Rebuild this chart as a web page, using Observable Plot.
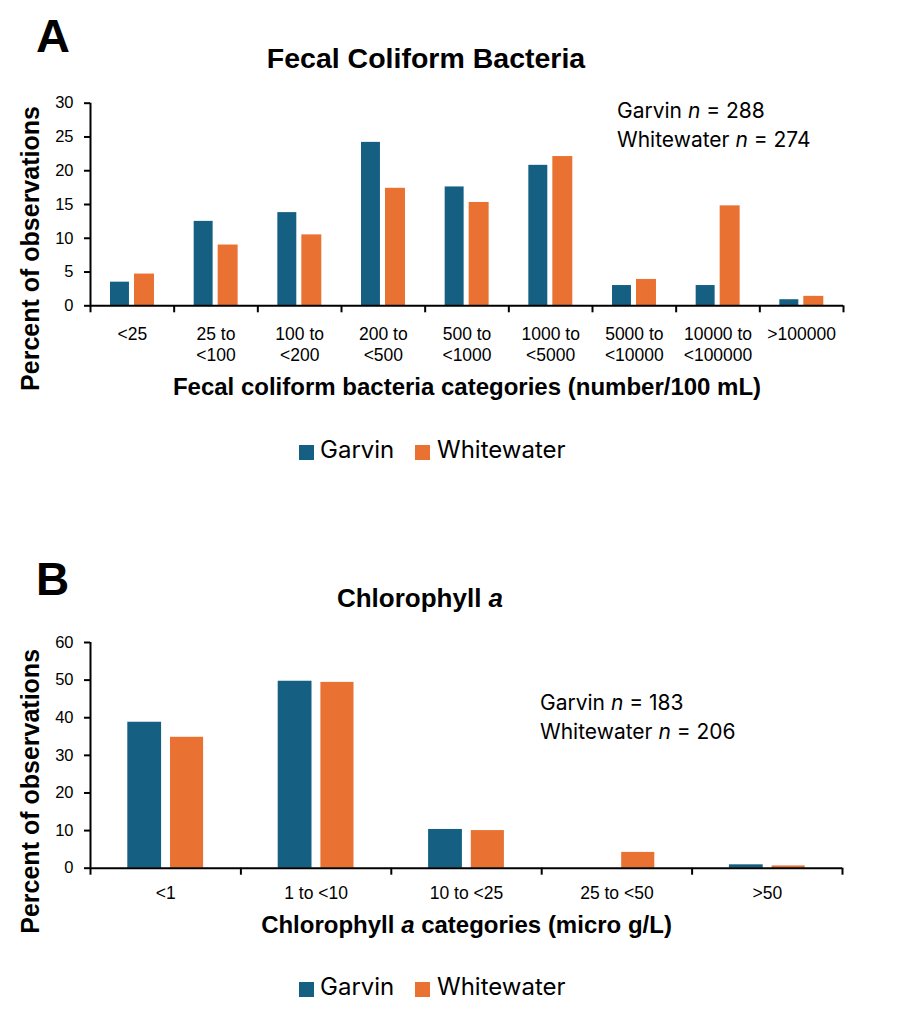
<!DOCTYPE html>
<html><head><meta charset="utf-8">
<script src="https://cdn.jsdelivr.net/npm/d3@7"></script>
<script src="https://cdn.jsdelivr.net/npm/@observablehq/plot@0.6"></script>
<style>
body{margin:0;background:#fff;}
#wrap{position:relative;width:917px;height:1012px;overflow:hidden;font-family:Inter,"Liberation Sans",sans-serif;color:#000;background:#fff}
.abs{position:absolute;white-space:nowrap}
.panel{font-family:"Liberation Sans",Arial,sans-serif;font-weight:bold;line-height:1}
.title{font-family:"Liberation Sans",Arial,sans-serif;font-weight:bold;line-height:1;transform:translateX(-50%)}
.note{font-family:Inter,sans-serif;font-size:21px;line-height:29px}
.sw{width:15px;height:15px}
.lg{font-family:Inter,sans-serif;font-size:24px;line-height:24px}
svg{overflow:visible}
</style>
</head><body>
<div id="wrap">
  <div class="abs panel" style="left:36px;top:12px;font-size:47px">A</div>
  <div class="abs title" style="left:426px;top:44px;font-size:28.5px">Fecal Coliform Bacteria</div>
  <div class="abs" id="plotA" style="left:0;top:80px"></div>
  <div class="abs note" style="left:617px;top:96px">Garvin <i>n</i> = 288<br>Whitewater <i>n</i> = 274</div>
  <div class="abs sw" id="swA1" style="left:299px;top:445px"></div>
  <div class="abs lg" style="left:320px;top:438px">Garvin</div>
  <div class="abs sw" id="swA2" style="left:415px;top:445px"></div>
  <div class="abs lg" style="left:437px;top:438px">Whitewater</div>

  <div class="abs panel" style="left:36px;top:556px;font-size:46px">B</div>
  <div class="abs title" style="left:420px;top:585px;font-size:26px">Chlorophyll <i>a</i></div>
  <div class="abs" id="plotB" style="left:0;top:620px"></div>
  <div class="abs note" style="left:540px;top:688px">Garvin <i>n</i> = 183<br>Whitewater <i>n</i> = 206</div>
  <div class="abs sw" id="swB1" style="left:299px;top:982px"></div>
  <div class="abs lg" style="left:320px;top:975px">Garvin</div>
  <div class="abs sw" id="swB2" style="left:415px;top:982px"></div>
  <div class="abs lg" style="left:437px;top:975px">Whitewater</div>
</div>
<script>
// ---- data ----
const series = ["Garvin", "Whitewater"];
const colors = ["#156082", "#E97132"];

const catsA = ["<25", "25 to\n<100", "100 to\n<200", "200 to\n<500", "500 to\n<1000", "1000 to\n<5000", "5000 to\n<10000", "10000 to\n<100000", ">100000"];
const garvinA = [3.5, 12.5, 13.8, 24.2, 17.6, 20.8, 3.0, 3.0, 0.9];
const whiteA  = [4.7, 9.0, 10.5, 17.4, 15.3, 22.1, 3.9, 14.8, 1.4];
const yTicksA = [0, 5, 10, 15, 20, 25, 30];

const catsB = ["<1", "1 to <10", "10 to <25", "25 to <50", ">50"];
const garvinB = [38.8, 49.7, 10.3, 0, 0.9];
const whiteB  = [34.8, 49.4, 10.0, 4.2, 0.6];
const yTicksB = [0, 10, 20, 30, 40, 50, 60];

const yLabel = "Percent of observations";
const xLabelA = "Fecal coliform bacteria categories (number/100 mL)";
const xLabelB = "Chlorophyll a categories (micro g/L)";

const sans = "'Liberation Sans', Arial, sans-serif";

function panel({cats, g, w, yTicks, mt, mb, mr, gIn, wIn, tickDy, xLabel, xLabelDy, yLabelDy}) {
  const rows = cats.map((c, i) => ({i, cat: c, g: g[i], w: w[i]}));
  return Plot.plot({
    width: 917, height: 330,
    marginTop: mt, marginBottom: mb, marginLeft: 90, marginRight: mr,
    x: {domain: [0, cats.length], axis: null},
    y: {domain: [yTicks[0], yTicks[yTicks.length - 1]], axis: null},
    style: {fontFamily: sans, color: "#000", background: "transparent", overflow: "visible"},
    marks: [
      Plot.rectY(rows, {x1: "i", x2: d => d.i + 1, y: "g", fill: colors[0], insetLeft: gIn[0], insetRight: gIn[1]}),
      Plot.rectY(rows, {x1: "i", x2: d => d.i + 1, y: "w", fill: colors[1], insetLeft: wIn[0], insetRight: wIn[1]}),
      Plot.axisY({ticks: yTicks, tickSize: 6, tickPadding: 11, fontSize: 16.5, strokeWidth: 2, label: null, tickFormat: d => d}),
      Plot.axisX({ticks: d3.range(0, cats.length + 1), tickSize: 7, strokeWidth: 2, tickFormat: () => "", label: null}),
      Plot.ruleX([0], {strokeWidth: 2}),
      Plot.ruleY([0], {strokeWidth: 2}),
      Plot.text(cats, {x: (d, i) => i + 0.5, frameAnchor: "bottom", lineAnchor: "top", dy: tickDy, fontSize: 17.5, lineHeight: 1.18}),
      Plot.text([xLabel], {frameAnchor: "bottom", lineAnchor: "middle", dy: xLabelDy, fontSize: 24, fontWeight: "bold"}),
      Plot.text([yLabel], {frameAnchor: "left", textAnchor: "middle", rotate: -90, lineAnchor: "middle", dx: -60, dy: yLabelDy, fontSize: 25, fontWeight: "bold"})
    ]
  });
}

const svgA = panel({cats: catsA, g: garvinA, w: whiteA, yTicks: yTicksA, mt: 22.7, mb: 104.7, mr: 74,
  gIn: [20, 44.7], wIn: [44, 19.7], tickDy: 19.5, xLabel: xLabelA, xLabelDy: 82, yLabelDy: 44});
document.getElementById("plotA").appendChild(svgA);

const svgB = panel({cats: catsB, g: garvinB, w: whiteB, yTicks: yTicksB, mt: 22, mb: 82.3, mr: 75,
  gIn: [37.3, 79.3], wIn: [80, 37.3], tickDy: 16, xLabel: xLabelB, xLabelDy: 57, yLabelDy: 36});
document.getElementById("plotB").appendChild(svgB);
d3.select(svgB).selectAll("text").filter(function() { return this.textContent === xLabelB; })
  .html('Chlorophyll <tspan font-style="italic">a</tspan> categories (micro g/L)');

["swA1", "swB1"].forEach(id => document.getElementById(id).style.background = colors[0]);
["swA2", "swB2"].forEach(id => document.getElementById(id).style.background = colors[1]);
</script>
</body></html>
